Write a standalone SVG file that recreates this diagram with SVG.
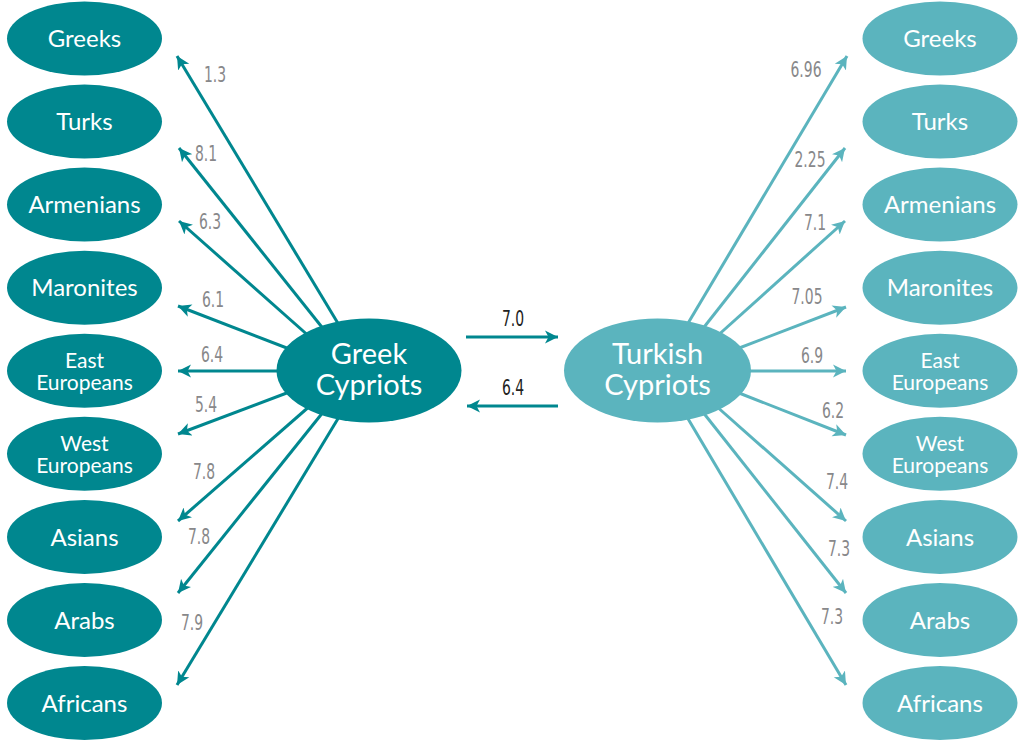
<svg xmlns="http://www.w3.org/2000/svg" width="1023" height="741" viewBox="0 0 1023 741">
<style>
.dk{fill:#00878f}
.lt{fill:#5bb4be}
.nt{fill:#ffffff;font-family:Lato,"Open Sans","DejaVu Sans",sans-serif;font-size:24px;text-anchor:middle}
.nt2{fill:#ffffff;font-family:Lato,"Open Sans","DejaVu Sans",sans-serif;font-size:21px;text-anchor:middle}
.ct{fill:#ffffff;font-family:Lato,"Open Sans","DejaVu Sans",sans-serif;font-size:29px;text-anchor:middle}
.lb{fill:#88888a;font-family:"DejaVu Sans",Verdana,sans-serif;font-size:20.5px;text-anchor:middle}
.lbd{fill:#222222;font-family:"DejaVu Sans",Verdana,sans-serif;font-size:20.5px;text-anchor:middle}
.cd{stroke:#00878f;stroke-width:3;fill:none}
.cl{stroke:#5bb4be;stroke-width:3;fill:none}
</style>
<defs>
<marker id="ad" viewBox="-13 -7 14 14" refX="0" refY="0" markerWidth="14" markerHeight="14" markerUnits="userSpaceOnUse" orient="auto">
<path d="M0,0 L-13,-6.5 L-9.5,0 L-13,6.5 Z" fill="#00878f"/>
</marker>
<marker id="al" viewBox="-13 -7 14 14" refX="0" refY="0" markerWidth="14" markerHeight="14" markerUnits="userSpaceOnUse" orient="auto">
<path d="M0,0 L-13,-6.5 L-9.5,0 L-13,6.5 Z" fill="#5bb4be"/>
</marker>
</defs>
<g id="connectors">
<line class="cd" x1="342" y1="330" x2="177" y2="56" marker-end="url(#ad)"/>
<line class="cd" x1="325" y1="331" x2="179" y2="148" marker-end="url(#ad)"/>
<line class="cd" x1="311" y1="338" x2="179" y2="221" marker-end="url(#ad)"/>
<line class="cd" x1="292" y1="350" x2="178" y2="306" marker-end="url(#ad)"/>
<line class="cd" x1="284" y1="371" x2="178" y2="371" marker-end="url(#ad)"/>
<line class="cd" x1="292" y1="391" x2="178" y2="434" marker-end="url(#ad)"/>
<line class="cd" x1="311" y1="405" x2="178" y2="521" marker-end="url(#ad)"/>
<line class="cd" x1="324" y1="411" x2="178" y2="593" marker-end="url(#ad)"/>
<line class="cd" x1="342" y1="412" x2="177" y2="685" marker-end="url(#ad)"/>
<line class="cl" x1="684" y1="330" x2="847" y2="56" marker-end="url(#al)"/>
<line class="cl" x1="701" y1="331" x2="845" y2="148" marker-end="url(#al)"/>
<line class="cl" x1="715" y1="338" x2="845" y2="221" marker-end="url(#al)"/>
<line class="cl" x1="734" y1="350" x2="846" y2="307" marker-end="url(#al)"/>
<line class="cl" x1="742" y1="371" x2="846" y2="371" marker-end="url(#al)"/>
<line class="cl" x1="734" y1="391" x2="846" y2="435" marker-end="url(#al)"/>
<line class="cl" x1="715" y1="405" x2="846" y2="521" marker-end="url(#al)"/>
<line class="cl" x1="702" y1="411" x2="846" y2="593" marker-end="url(#al)"/>
<line class="cl" x1="684" y1="412" x2="846" y2="685" marker-end="url(#al)"/>
<line class="cd" x1="466" y1="337" x2="558" y2="337" marker-end="url(#ad)"/>
<line class="cd" x1="558" y1="406" x2="467" y2="406" marker-end="url(#ad)"/>
<g id="edge-labels">
<text class="lb" transform="translate(215,82) scale(0.68,1)">1.3</text>
<text class="lb" transform="translate(206,161) scale(0.68,1)">8.1</text>
<text class="lb" transform="translate(210,229) scale(0.68,1)">6.3</text>
<text class="lb" transform="translate(213,307) scale(0.68,1)">6.1</text>
<text class="lb" transform="translate(212,362) scale(0.68,1)">6.4</text>
<text class="lb" transform="translate(206,412) scale(0.68,1)">5.4</text>
<text class="lb" transform="translate(204,479) scale(0.68,1)">7.8</text>
<text class="lb" transform="translate(199,544) scale(0.68,1)">7.8</text>
<text class="lb" transform="translate(192,630) scale(0.68,1)">7.9</text>
<text class="lb" transform="translate(806,77) scale(0.68,1)">6.96</text>
<text class="lb" transform="translate(810,167) scale(0.68,1)">2.25</text>
<text class="lb" transform="translate(815,230) scale(0.68,1)">7.1</text>
<text class="lb" transform="translate(807,304) scale(0.68,1)">7.05</text>
<text class="lb" transform="translate(812,363) scale(0.68,1)">6.9</text>
<text class="lb" transform="translate(833,418) scale(0.68,1)">6.2</text>
<text class="lb" transform="translate(837,489) scale(0.68,1)">7.4</text>
<text class="lb" transform="translate(839,556) scale(0.68,1)">7.3</text>
<text class="lb" transform="translate(832,624) scale(0.68,1)">7.3</text>
<text class="lbd" transform="translate(513,326) scale(0.68,1)">7.0</text>
<text class="lbd" transform="translate(513,395) scale(0.68,1)">6.4</text>
</g>
</g>
<g id="greek-cypriots"><ellipse class="dk" cx="369" cy="370.5" rx="92.5" ry="52"/><text class="ct" x="369" y="364">Greek</text><text class="ct" x="369" y="394.5">Cypriots</text></g>
<g id="turkish-cypriots"><ellipse class="lt" cx="657.5" cy="370.5" rx="93.5" ry="52"/><text class="ct" x="657.5" y="364">Turkish</text><text class="ct" x="657.5" y="394.5">Cypriots</text></g>
<g id="gc-greeks"><ellipse class="dk" cx="84.5" cy="38.5" rx="77.5" ry="37"/><text class="nt" x="84.5" y="47">Greeks</text></g>
<g id="gc-turks"><ellipse class="dk" cx="84.5" cy="121.6" rx="77.5" ry="37"/><text class="nt" x="84.5" y="130">Turks</text></g>
<g id="gc-armenians"><ellipse class="dk" cx="84.5" cy="204.6" rx="77.5" ry="37"/><text class="nt" x="84.5" y="213">Armenians</text></g>
<g id="gc-maronites"><ellipse class="dk" cx="84.5" cy="287.7" rx="77.5" ry="37"/><text class="nt" x="84.5" y="296">Maronites</text></g>
<g id="gc-east"><ellipse class="dk" cx="84.5" cy="370.7" rx="77.5" ry="37"/><text class="nt2" x="84.5" y="368">East</text><text class="nt2" x="84.5" y="390">Europeans</text></g>
<g id="gc-west"><ellipse class="dk" cx="84.5" cy="453.8" rx="77.5" ry="37"/><text class="nt2" x="84.5" y="451">West</text><text class="nt2" x="84.5" y="473">Europeans</text></g>
<g id="gc-asians"><ellipse class="dk" cx="84.5" cy="536.9" rx="77.5" ry="37"/><text class="nt" x="84.5" y="545.5">Asians</text></g>
<g id="gc-arabs"><ellipse class="dk" cx="84.5" cy="619.9" rx="77.5" ry="37"/><text class="nt" x="84.5" y="628.5">Arabs</text></g>
<g id="gc-africans"><ellipse class="dk" cx="84.5" cy="703" rx="77.5" ry="37"/><text class="nt" x="84.5" y="711.5">Africans</text></g>
<g id="tc-greeks"><ellipse class="lt" cx="940" cy="38.5" rx="77.5" ry="37"/><text class="nt" x="940" y="47">Greeks</text></g>
<g id="tc-turks"><ellipse class="lt" cx="940" cy="121.6" rx="77.5" ry="37"/><text class="nt" x="940" y="130">Turks</text></g>
<g id="tc-armenians"><ellipse class="lt" cx="940" cy="204.6" rx="77.5" ry="37"/><text class="nt" x="940" y="213">Armenians</text></g>
<g id="tc-maronites"><ellipse class="lt" cx="940" cy="287.7" rx="77.5" ry="37"/><text class="nt" x="940" y="296">Maronites</text></g>
<g id="tc-east"><ellipse class="lt" cx="940" cy="370.7" rx="77.5" ry="37"/><text class="nt2" x="940" y="368">East</text><text class="nt2" x="940" y="390">Europeans</text></g>
<g id="tc-west"><ellipse class="lt" cx="940" cy="453.8" rx="77.5" ry="37"/><text class="nt2" x="940" y="451">West</text><text class="nt2" x="940" y="473">Europeans</text></g>
<g id="tc-asians"><ellipse class="lt" cx="940" cy="536.9" rx="77.5" ry="37"/><text class="nt" x="940" y="545.5">Asians</text></g>
<g id="tc-arabs"><ellipse class="lt" cx="940" cy="619.9" rx="77.5" ry="37"/><text class="nt" x="940" y="628.5">Arabs</text></g>
<g id="tc-africans"><ellipse class="lt" cx="940" cy="703" rx="77.5" ry="37"/><text class="nt" x="940" y="711.5">Africans</text></g>
</svg>
